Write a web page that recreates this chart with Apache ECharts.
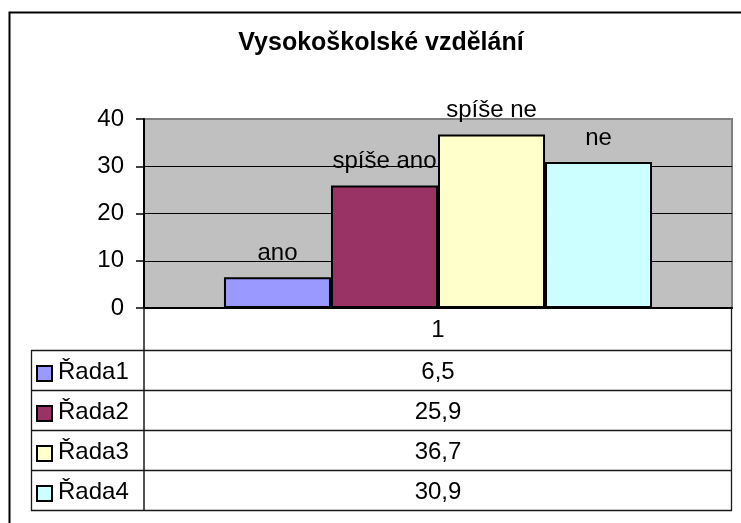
<!DOCTYPE html>
<html>
<head>
<meta charset="utf-8">
<script src="https://cdn.jsdelivr.net/npm/echarts@6/dist/echarts.min.js"></script>
<style>
html,body{margin:0;padding:0;background:#fff;}
#main{width:741px;height:523px;}
</style>
</head>
<body>
<div id="main"></div>
<script>
// ---- data ----
const categories = ['1'];
const seriesNames = ['Řada1', 'Řada2', 'Řada3', 'Řada4'];
const barLabels = ['ano', 'spíše ano', 'spíše ne', 'ne'];
const values = [6.5, 25.9, 36.7, 30.9];
const colors = ['#9999FF', '#993366', '#FFFFCC', '#CCFFFF'];
const titleText = 'Vysokoškolské vzdělání';

// ---- layout ----
const FONT = '"Liberation Sans", Arial, sans-serif';
const FS = 24;
const G = { left: 144, top: 119, width: 588, height: 189 };
const gridRight = G.left + G.width;
const tableLeft = 31;
const tableTop = 350;
const rowH = 40;
const lineColor = '#1a1a1a';

const chart = echarts.init(document.getElementById('main'), null, { renderer: 'canvas' });

const graphics = [];
// outer frame
graphics.push({
  type: 'rect', z: 100, silent: true,
  shape: { x: 9.5, y: 12.5, width: 800, height: 600 },
  style: { fill: 'none', stroke: '#000', lineWidth: 2 }
});
// table lines
const nRows = seriesNames.length;
for (let i = 0; i <= nRows; i++) {
  const y = tableTop + i * rowH + 0.5;
  graphics.push({ type: 'line', z: 100, silent: true,
    shape: { x1: tableLeft, y1: y, x2: gridRight, y2: y },
    style: { stroke: lineColor, lineWidth: 1.3 } });
}
const tableBottom = tableTop + nRows * rowH + 0.5;
graphics.push({ type: 'line', z: 100, silent: true,
  shape: { x1: tableLeft + 0.5, y1: tableTop, x2: tableLeft + 0.5, y2: tableBottom },
  style: { stroke: lineColor, lineWidth: 1.3 } });
graphics.push({ type: 'line', z: 100, silent: true,
  shape: { x1: G.left, y1: G.top + G.height, x2: G.left, y2: tableBottom },
  style: { stroke: lineColor, lineWidth: 1.5 } });
graphics.push({ type: 'line', z: 100, silent: true,
  shape: { x1: gridRight - 0.5, y1: G.top + G.height, x2: gridRight - 0.5, y2: tableBottom },
  style: { stroke: lineColor, lineWidth: 1.3 } });
// rows
for (let i = 0; i < nRows; i++) {
  const cy = tableTop + i * rowH + rowH / 2 + 2;
  graphics.push({ type: 'rect', z: 101, silent: true,
    shape: { x: 37, y: cy - 6, width: 15, height: 15 },
    style: { fill: colors[i], stroke: '#000', lineWidth: 2 } });
  graphics.push({ type: 'text', z: 101, silent: true,
    x: 58, y: cy,
    style: { text: seriesNames[i], font: FS + 'px ' + FONT, fill: '#000',
      textAlign: 'left', textVerticalAlign: 'middle' } });
  graphics.push({ type: 'text', z: 101, silent: true,
    x: (G.left + gridRight) / 2, y: cy,
    style: { text: String(values[i]).replace('.', ','), font: FS + 'px ' + FONT, fill: '#000',
      textAlign: 'center', textVerticalAlign: 'middle' } });
}
// title
graphics.push({ type: 'text', z: 101, silent: true,
  x: 381, y: 43,
  style: { text: titleText, font: 'bold 25px ' + FONT, fill: '#000',
    textAlign: 'center', textVerticalAlign: 'middle' } });

const series = values.map((v, i) => ({
  name: seriesNames[i],
  type: 'bar',
  data: [v],
  barGap: '0%',
  barCategoryGap: '27.2%',
  itemStyle: { color: colors[i], borderColor: '#000', borderWidth: 2 },
  label: {
    show: true, position: 'top', distance: 12,
    formatter: () => barLabels[i],
    fontFamily: FONT, fontSize: FS, color: '#000'
  },
  emphasis: { disabled: true },
  animation: false
}));

chart.setOption({
  animation: false,
  backgroundColor: '#fff',
  grid: {
    left: G.left, top: G.top, width: G.width, height: G.height,
    show: true, backgroundColor: '#C0C0C0', borderColor: '#808080', borderWidth: 2,
    containLabel: false
  },
  xAxis: {
    type: 'category',
    data: categories,
    axisLine: { show: true, lineStyle: { color: '#000', width: 2 } },
    axisTick: { show: false },
    axisLabel: { show: true, margin: 10, fontFamily: FONT, fontSize: FS, color: '#000' },
    splitLine: { show: false }
  },
  yAxis: {
    type: 'value',
    min: 0, max: 40, interval: 10,
    axisLine: { show: true, lineStyle: { color: '#000', width: 2 } },
    axisTick: { show: true, length: 8, lineStyle: { color: '#000', width: 1.5 } },
    axisLabel: { margin: 20, fontFamily: FONT, fontSize: FS, color: '#000' },
    splitLine: { show: true, showMinLine: false, showMaxLine: false, lineStyle: { color: '#000', width: 1 } }
  },
  series: series,
  graphic: graphics
});
</script>
</body>
</html>
